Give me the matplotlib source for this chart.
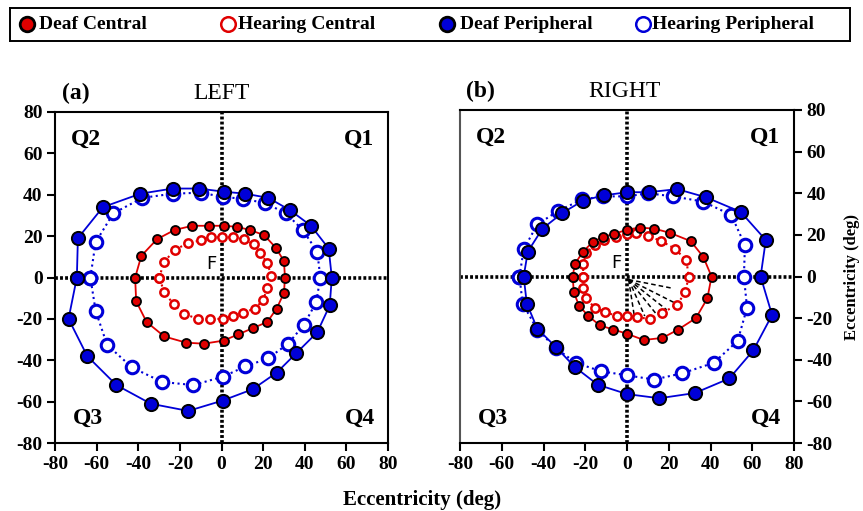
import matplotlib
matplotlib.use("Agg")
import matplotlib.pyplot as plt

plt.rcParams['font.family'] = ['Liberation Serif', 'DejaVu Serif']
plt.rcParams['font.weight'] = 'bold'
plt.rcParams['axes.unicode_minus'] = False

# LEFT eye contours (x, y in deg)
ldp_x = [-69.5, -69, -57, -39, -23.5, -11, 1, 11.5, 22.5, 33, 43, 51.5, 53, 52, 46, 36, 26.5, 15, 0.5, -16, -34, -50.5, -64.5, -73.5]
ldp_y = [0, 19, 34, 40.5, 43, 43, 41.5, 40.5, 38.5, 32.5, 25, 14, 0, -13.5, -26.5, -36.5, -46, -54, -59.5, -64.5, -61, -52, -38, -20]
lhp_x = [-63, -60.5, -52, -38, -23.5, -10, 0.5, 10.5, 21, 31, 39, 46, 47.5, 45.5, 39.5, 32, 22.5, 11.5, 0.5, -13.5, -28.5, -43, -55, -60.5]
lhp_y = [0, 17, 31, 38.5, 40.5, 41, 39, 38, 36, 31, 23, 12.5, 0, -12, -23, -32, -39, -43, -48, -52, -50.5, -43.5, -32.5, -16]
ldc_x = [-41.5, -38.5, -31, -22.5, -14, -6, 1, 7.5, 13.5, 20.5, 26, 30, 30.5, 30, 26.5, 22, 15, 8, 1, -8.5, -17, -27.5, -36, -41]
ldc_y = [0, 10.5, 18.5, 23, 25, 25, 25, 24.5, 23, 20.5, 14.5, 8, 0, -7.5, -15, -21.5, -24.5, -27.5, -30.5, -32, -31.5, -28.5, -21.5, -11.5]
lhc_x = [-30, -27.5, -22.5, -16, -10, -5, 0, 5.5, 11, 15.5, 18.5, 22, 24, 22, 20, 16, 10.5, 5.5, 0.5, -5.5, -11.5, -18, -23, -27.5]
lhc_y = [0, 7.5, 13.5, 16.5, 18, 19.5, 19.5, 19.5, 18.5, 16, 12, 7, 0.5, -5, -11, -15, -17, -18.5, -20, -20, -20, -17.5, -13, -7]

# RIGHT eye contours
rdp_x = [-49.5, -47.5, -40.5, -31, -21, -11, 0, 10.5, 24, 38, 54.5, 66.5, 64, 69.5, 60.5, 49, 32.5, 15.5, 0, -14, -25, -34, -43, -48]
rdp_y = [0, 12, 23, 30.5, 36.5, 39, 40.5, 40.5, 42, 38, 31, 17.5, 0, -18.5, -35.5, -49, -56, -58.5, -56.5, -52, -43.5, -34, -25, -13]
rhp_x = [-51.5, -49.5, -43, -33, -21.5, -11.5, 0, 10, 22, 36.5, 50, 56.5, 56, 57.5, 53, 41.5, 26.5, 13, 0, -12.5, -24.5, -34, -43, -50]
rhp_y = [0, 13, 25, 31.5, 37, 38.5, 38.5, 40, 38.5, 36, 29.5, 15, 0, -15, -31, -41.5, -46.5, -49.5, -47.5, -45.5, -41.5, -34.5, -25.5, -13]
rdc_x = [-26, -25, -21, -16.5, -11.5, -6, 0, 6, 13, 20.5, 30.5, 36.5, 40.5, 38.5, 33, 24.5, 17, 8, 0, -6.5, -13, -18.5, -23, -25.5]
rdc_y = [0, 6, 12, 16.5, 19, 20.5, 22.5, 23.5, 23, 21, 17, 9.5, 0, -10.5, -20, -25.5, -29.5, -30.5, -27.5, -25.5, -23.5, -19, -14, -7.5]
rhc_x = [-21, -21, -19.5, -15.5, -11, -5.5, 0, 4.5, 10, 16.5, 23, 28.5, 29.5, 28, 24, 17, 11, 5, 0, -5, -10.5, -15.5, -19.5, -21]
rhc_y = [0, 6, 11.5, 15, 17.5, 19.2, 20.3, 20.8, 19.5, 17, 13.3, 7.7, 0, -7.5, -13.5, -17.5, -20.5, -19.5, -19, -19, -17, -15, -10.5, -5.5]

# blind-spot rays (right eye)
ray_start = (0.8, -1.5)
ray_end_x = [21, 24.5, 19, 14, 8.5, 3.5]
ray_end_y = [-5.5, -13.5, -16, -18, -19, -19]

ticks = [-80, -60, -40, -20, 0, 20, 40, 60, 80]
legend_labels = ['Deaf Central', 'Hearing Central', 'Deaf Peripheral', 'Hearing Peripheral']

RED = '#e00000'
BLUE = '#0000d8'

fig = plt.figure(figsize=(8.63, 5.11), dpi=100)
axL = fig.add_axes([55/863, 68/511, 333/863, 331/511])
axR = fig.add_axes([460/863, 68/511, 334/863, 333/511])


def closed(xs, ys):
    return list(xs) + [xs[0]], list(ys) + [ys[0]]


def draw(ax, hp, dp, hc, dc):
    ax.axhline(0, color='black', lw=2.6, ls=(0, (0.8, 0.6)), zorder=1.5)
    ax.axvline(0, color='black', lw=2.6, ls=(0, (0.8, 0.6)), zorder=1.5)
    x, y = closed(*hp)
    ax.plot(x, y, ls=':', lw=1.5, color=BLUE, marker='o', ms=9, mfc='white',
            mec=BLUE, mew=2.2, zorder=3)
    x, y = closed(*dp)
    ax.plot(x, y, ls='-', lw=1.3, color=BLUE, marker='o', ms=9.5, mfc=BLUE,
            mec='black', mew=1.4, zorder=4)
    x, y = closed(*hc)
    ax.plot(x, y, ls=':', lw=1.5, color=RED, marker='o', ms=6, mfc='white',
            mec=RED, mew=1.8, zorder=3)
    x, y = closed(*dc)
    ax.plot(x, y, ls='-', lw=1.3, color=RED, marker='o', ms=6.5, mfc=RED,
            mec='black', mew=1.3, zorder=4)
    ax.set_xlim(-80, 80)
    ax.set_ylim(-80, 80)
    ax.set_xticks(ticks)
    ax.set_yticks(ticks)
    for s in ax.spines.values():
        s.set_linewidth(1.5)
    ax.tick_params(direction='out', length=6, width=1.5, labelsize=14, pad=3)
    ax.text(-65, 67, 'Q2', fontsize=17, ha='center', va='center')
    ax.text(66, 67, 'Q1', fontsize=17, ha='center', va='center')
    ax.text(-64, -68, 'Q3', fontsize=17, ha='center', va='center')
    ax.text(66.5, -68, 'Q4', fontsize=17, ha='center', va='center')
    ax.text(-5, 6.5, 'F', fontsize=13, ha='center', va='center',
            family='DejaVu Sans', fontweight='normal')


draw(axL, (lhp_x, lhp_y), (ldp_x, ldp_y), (lhc_x, lhc_y), (ldc_x, ldc_y))
draw(axR, (rhp_x, rhp_y), (rdp_x, rdp_y), (rhc_x, rhc_y), (rdc_x, rdc_y))

for ex, ey in zip(ray_end_x, ray_end_y):
    axR.plot([ray_start[0], ex], [ray_start[1], ey], color='black', lw=1.1,
             ls=(0, (3, 2)), zorder=2)

axL.text(-70, 89, '(a)', fontsize=17, ha='center', va='center', clip_on=False)
axL.text(0, 89, 'LEFT', fontsize=17, fontweight='normal', ha='center', va='center', clip_on=False)
axR.text(-70, 89, '(b)', fontsize=17, ha='center', va='center', clip_on=False)
axR.text(-1, 89, 'RIGHT', fontsize=17, fontweight='normal', ha='center', va='center', clip_on=False)

axR.yaxis.tick_right()
axR.yaxis.set_label_position('right')
axR.spines['left'].set_color('#555555')
axR.set_ylabel('Eccentricity (deg)', fontsize=12, fontweight='bold', labelpad=8)

fig.text(422/863, 1 - 500/511, 'Eccentricity (deg)', fontsize=15, ha='center', va='center')

# legend box (pixel-based coordinates inside a frame axes)
axLeg = fig.add_axes([10/863, 1 - 41/511, 840/863, 33/511])
axLeg.set_xlim(0, 840)
axLeg.set_ylim(0, 33)
axLeg.set_xticks([])
axLeg.set_yticks([])
for s in axLeg.spines.values():
    s.set_linewidth(1.4)
leg_styles = [
    dict(mfc=RED, mec='black', mew=2),
    dict(mfc='white', mec=RED, mew=1.8),
    dict(mfc=BLUE, mec='black', mew=2),
    dict(mfc='white', mec=BLUE, mew=1.8),
]
leg_mx = [17, 218, 437, 633]
leg_tx = [29, 228, 450, 642]
for mx, tx, lab, st in zip(leg_mx, leg_tx, legend_labels, leg_styles):
    axLeg.plot([mx], [16.5], ls='none', marker='o', ms=10.5, **st)
    axLeg.text(tx, 16.5, lab, fontsize=14, ha='left', va='center')

fig.savefig('out.png', dpi=100)
